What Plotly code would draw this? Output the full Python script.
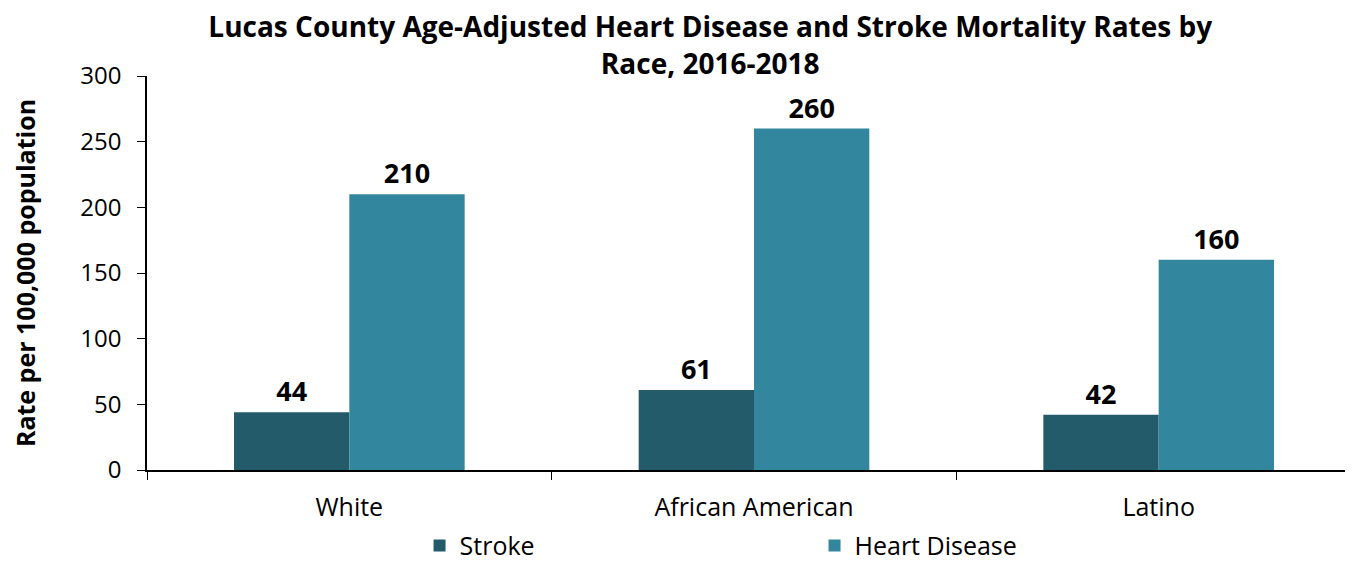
import plotly.graph_objects as go

categories = ["White", "African American", "Latino"]
stroke = [44, 61, 42]
heart = [210, 260, 160]
y_ticks = [0, 50, 100, 150, 200, 250, 300]

FONT = "Open Sans"

fig = go.Figure()
fig.add_trace(go.Bar(
    name="Stroke", x=categories, y=stroke, marker_color="#235B6A",
    marker_line_width=0, text=stroke, textposition="outside",
    textfont=dict(family=FONT, size=27, color="black", weight="bold"),
    cliponaxis=False,
))
fig.add_trace(go.Bar(
    name="Heart Disease", x=categories, y=heart, marker_color="#32869D",
    marker_line_width=0, text=heart, textposition="outside",
    textfont=dict(family=FONT, size=27, color="black", weight="bold"),
    cliponaxis=False,
))

fig.update_layout(
    width=1353, height=561,
    margin=dict(l=139, r=0, t=68, b=82),
    paper_bgcolor="white", plot_bgcolor="white",
    font=dict(family=FONT, size=25, color="black"),
    barmode="group", bargap=0.43, bargroupgap=0,
    title=dict(
        text="<b>Lucas County Age-Adjusted Heart Disease and Stroke Mortality Rates by<br>Race, 2016-2018</b>",
        x=0.519, xanchor="center", yref="container", y=0.9475, yanchor="middle",
        font=dict(family=FONT, size=28, color="black"),
    ),
    showlegend=True,
    legend=dict(
        orientation="h", x=0.2245, xanchor="left",
        yref="paper", y=-0.192, yanchor="middle",
        entrywidth=350, entrywidthmode="pixels",
        font=dict(family=FONT, size=25, color="black"),
        traceorder="normal",
    ),
)
fig.update_xaxes(
    showline=True, linecolor="black", linewidth=1.5,
    ticks="outside", tickson="boundaries", ticklen=8, tickcolor="black",
    tickfont=dict(family=FONT, size=25), showgrid=False,
    automargin=False, ticklabelstandoff=14,
)
fig.update_yaxes(
    range=[0, 300], tickvals=y_ticks, showline=True, linecolor="black",
    linewidth=1.5, ticks="outside", ticklen=8, tickcolor="black",
    tickfont=dict(family=FONT, size=24), showgrid=False, zeroline=False,
    automargin=False, ticklabelstandoff=11,
    title=dict(text="<b>Rate per 100,000 population</b>",
               font=dict(family=FONT, size=25), standoff=50),
)

fig.write_html("out.html")
